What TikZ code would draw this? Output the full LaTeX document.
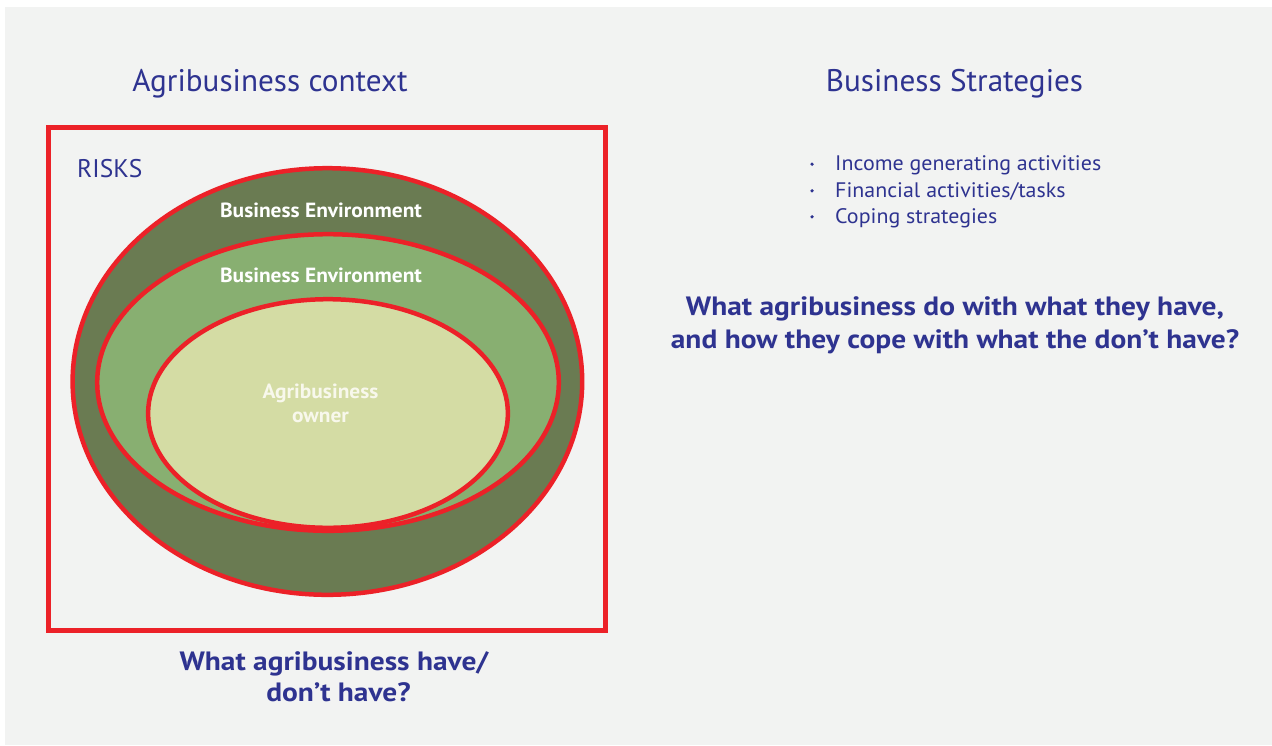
\documentclass[tikz,border=0pt]{standalone}
\usepackage{fontspec}
\setmainfont{PT Sans}
\newfontfamily\questionfont[FakeStretch=1.11]{PT Sans}
\newfontfamily\labelfont[FakeStretch=1.045]{PT Sans}
\newfontfamily\listfont[FakeStretch=1.045]{PT Sans}
\definecolor{pagegray}{HTML}{F2F3F2}
\definecolor{inkblue}{HTML}{2E3390}
\definecolor{riskred}{HTML}{EC2128}
\definecolor{outergreen}{HTML}{6A7B52}
\definecolor{midgreen}{HTML}{88AF71}
\definecolor{innergreen}{HTML}{D4DCA4}
\definecolor{ownerwhite}{HTML}{F8F8EC}
\tikzset{
  ring/.style={draw=riskred, line width=4.5pt},
  heading/.style={text=inkblue, anchor=base, inner sep=0pt, font=\fontsize{31.2}{38}\selectfont},
  bandlabel/.style={text=white, anchor=base, inner sep=0pt, font=\labelfont\bfseries\fontsize{20.5}{24}\selectfont},
  bulletline/.style={text=inkblue, anchor=base west, inner sep=0pt, font=\listfont\fontsize{21}{26}\selectfont},
  bulletdot/.style={fill=inkblue, circle, inner sep=0pt, minimum size=3.6pt},
  question/.style={text=inkblue, anchor=base, inner sep=0pt, font=\questionfont\bfseries\fontsize{26.5}{32}\selectfont},
}
\begin{document}
\begin{tikzpicture}[x=1pt,y=-1pt]
\useasboundingbox (0,0) rectangle (1272,745);
\fill[pagegray] (5,7) rectangle (1272,745);

% headings
\node[heading] (ctx) at (270,91.7) {Agribusiness context};
\node[heading] (strat) at (954.5,91.7) {Business Strategies};

% context frame and nested rings
\draw[riskred, line width=5pt] (48.5,127) rectangle (605.5,630.5);
\node[text=inkblue, anchor=base west, inner sep=0pt, font=\fontsize{25.5}{30}\selectfont] (risks) at (77,177.3) {RISKS};
\draw[ring, fill=outergreen] (327.4,381.5) ellipse [x radius=254.8, y radius=213.3];
\draw[ring, fill=midgreen] (328,382.5) ellipse [x radius=230.8, y radius=148.3];
\draw[ring, fill=innergreen] (328,413.5) ellipse [x radius=179.9, y radius=114.3];

\node[bandlabel] (env1) at (321,217.7) {Business Environment};
\node[bandlabel] (env2) at (321,282.3) {Business Environment};
\node[bandlabel, text=ownerwhite] (own1) at (320.5,398.3) {Agribusiness};
\node[bandlabel, text=ownerwhite] (own2) at (320.5,422.7) {owner};

% strategy list
\node[bulletline] (b1) at (835,170.7) {Income generating activities};
\node[bulletline] (b2) at (835,197.3) {Financial activities/tasks};
\node[bulletline] (b3) at (835,223.3) {Coping strategies};
\node[bulletdot] (d1) at (812,164.2) {};
\node[bulletdot] (d2) at (812,190.8) {};
\node[bulletdot] (d3) at (812,216.8) {};

% questions
\node[question] (q1) at (955,315.7) {What agribusiness do with what they have,};
\node[question] (q2) at (955,348.3) {and how they cope with what the don’t have?};
\node[question] (h1) at (334,670.7) {What agribusiness have/};
\node[question] (h2) at (338.5,701) {don’t have?};
\end{tikzpicture}
\end{document}
